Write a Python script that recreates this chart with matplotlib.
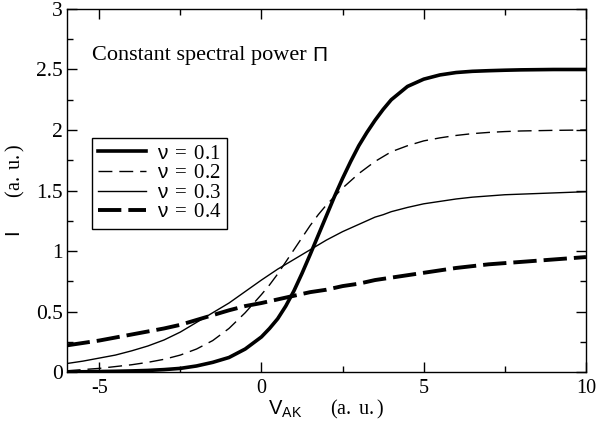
import matplotlib
matplotlib.use('Agg')
import matplotlib.pyplot as plt
from matplotlib.ticker import MultipleLocator

plt.rcParams['font.family'] = ['Liberation Serif', 'DejaVu Serif']
plt.rcParams['mathtext.fontset'] = 'custom'
plt.rcParams['mathtext.rm'] = 'Liberation Serif'
plt.rcParams['mathtext.sf'] = 'Liberation Sans'
plt.rcParams['mathtext.it'] = 'Liberation Serif:italic'

# values
v_ak = [-6, -5.5, -5, -4.5, -4, -3.5, -3, -2.5, -2, -1.5, -1, -0.5, 0, 0.25, 0.5, 0.75,
        1, 1.25, 1.5, 1.75, 2, 2.25, 2.5, 2.75, 3, 3.25, 3.5, 3.75, 4, 4.5, 5, 5.5,
        6, 6.5, 7, 7.5, 8, 9, 10]
i_nu01 = [0.0, 0.002, 0.004, 0.006, 0.009, 0.013, 0.02, 0.03, 0.05, 0.08, 0.12, 0.19, 0.29,
          0.36, 0.44, 0.545, 0.67, 0.815, 0.97, 1.13, 1.29, 1.45, 1.60, 1.74, 1.87, 1.98,
          2.08, 2.17, 2.25, 2.36, 2.42, 2.455, 2.475, 2.485, 2.49, 2.494, 2.497, 2.5, 2.5]
i_nu02 = [0.01, 0.02, 0.03, 0.045, 0.06, 0.08, 0.105, 0.14, 0.19, 0.26, 0.36, 0.49, 0.64,
          0.72, 0.81, 0.91, 1.01, 1.11, 1.21, 1.30, 1.38, 1.45, 1.52, 1.58, 1.64, 1.69,
          1.74, 1.78, 1.82, 1.87, 1.91, 1.935, 1.955, 1.97, 1.98, 1.987, 1.992, 1.997, 2.0]
i_nu03 = [0.07, 0.09, 0.115, 0.14, 0.175, 0.215, 0.265, 0.33, 0.41, 0.49, 0.57, 0.665, 0.76,
          0.805, 0.85, 0.89, 0.93, 0.97, 1.01, 1.05, 1.09, 1.125, 1.16, 1.19, 1.22, 1.25,
          1.28, 1.30, 1.325, 1.36, 1.39, 1.41, 1.43, 1.445, 1.455, 1.465, 1.47, 1.48, 1.49]
i_nu04 = [0.22, 0.24, 0.26, 0.285, 0.31, 0.335, 0.36, 0.39, 0.43, 0.47, 0.51, 0.545, 0.57,
          0.585, 0.60, 0.615, 0.63, 0.645, 0.66, 0.67, 0.68, 0.695, 0.71, 0.72, 0.73, 0.745,
          0.76, 0.77, 0.78, 0.80, 0.82, 0.84, 0.86, 0.875, 0.89, 0.90, 0.91, 0.93, 0.95]
nus = ['0.1', '0.2', '0.3', '0.4']
labels = [r'$\mathsf{\nu}\;=\;\mathrm{' + n + '}$' for n in nus]
xticks = [-5, 0, 5, 10]
yticks = [0, 0.5, 1, 1.5, 2, 2.5, 3]

fig = plt.figure(figsize=(6.01, 4.24), dpi=100)
ax = fig.add_axes([0.111, 0.1226, 0.864, 0.8562])

ax.plot(v_ak, i_nu01, color='black', lw=2.6, label=labels[0])
ax.plot(v_ak, i_nu02, color='black', lw=1.0, dashes=(10, 5), label=labels[1])
ax.plot(v_ak, i_nu03, color='black', lw=1.0, label=labels[2])
ax.plot(v_ak, i_nu04, color='black', lw=2.8, dashes=(6, 1.8), label=labels[3])

ax.set_xlim(-6, 10)
ax.set_ylim(0, 3)
ax.set_xticks(xticks)
ax.set_xticklabels([str(v) for v in xticks], family='Liberation Serif', fontsize=14.5)
ax.set_yticks(yticks)
ax.set_yticklabels(['%g' % v for v in yticks], family='Liberation Serif', fontsize=15.5)
ax.xaxis.set_minor_locator(MultipleLocator(2.5))
ax.yaxis.set_minor_locator(MultipleLocator(0.25))
ax.tick_params(which='both', direction='in', top=True, right=True, width=1)
ax.tick_params(which='major', length=7)
ax.tick_params(which='minor', length=4.3)
ax.tick_params(axis='x', pad=5)
ax.tick_params(axis='y', pad=3)
for s in ax.spines.values():
    s.set_linewidth(1.0)

ax.set_xlabel(r'$\mathsf{V_{AK}}\qquad\mathrm{(a.\ u.)}$', fontsize=14.5, labelpad=0)
ax.set_ylabel(r'$\mathsf{I}\qquad\ \mathrm{(a.\ u.)}$', fontsize=14.5, labelpad=6)

t = ax.text(0.049, 0.873, 'Constant spectral power ', transform=ax.transAxes,
            fontsize=16, va='center', ha='left', family='Liberation Serif')
ax.annotate('\u03a0', xy=(1, 0.5), xycoords=t, va='center', ha='left',
            fontsize=15, family='Liberation Sans')

leg = ax.legend(loc='upper left', bbox_to_anchor=(0.0487, 0.645), borderaxespad=0,
                fontsize=15, frameon=True, fancybox=False, framealpha=1,
                edgecolor='black', handlelength=2.3, handletextpad=0.5,
                labelspacing=0.0, borderpad=0.3)
leg.get_frame().set_linewidth(1.0)

fig.savefig('out.png', dpi=100)
